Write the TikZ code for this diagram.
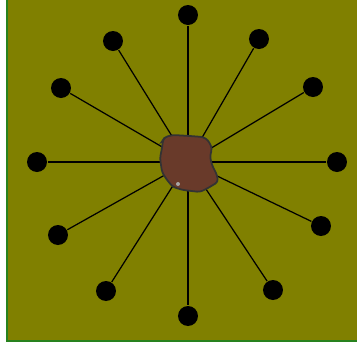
\documentclass[tikz,border=0pt]{standalone}
\definecolor{olivebg}{RGB}{128,128,0}
\definecolor{frameg}{RGB}{40,130,30}
\definecolor{blobbrown}{RGB}{105,58,42}
\tikzset{
  dot/.style={circle, fill=black, inner sep=0pt, minimum size=20\unitlength},
  spoke/.style={draw=black, line width=0.35pt},
}
\setlength{\unitlength}{0.01cm}
\begin{document}
\begin{tikzpicture}[x=0.01cm, y=-0.01cm]
\useasboundingbox (0,0) rectangle (357,345);
\fill[white] (0,0) rectangle (357,345);
\fill[olivebg] (7,0) rectangle (357,341);
\draw[frameg, line width=0.8pt] (7,-2) -- (7,341) -- (359,341);
\coordinate (c) at (188,162);
\foreach \n/\x/\y in {d1/188/15, d2/259/39, d3/313/87, d4/337/162, d5/321/226, d6/273/290, d7/188/316, d8/106/291, d9/58/235, d10/37/162, d11/61/88, d12/113/41} {
  \node[dot] (\n) at (\x,\y) {};
  \draw[spoke] (c) -- (\n);
}
\filldraw[fill=blobbrown, draw=black!80, line width=0.5pt, rounded corners=3\unitlength]
  (165,137) -- (173,135) -- (190,136) -- (203,137) -- (208,140) -- (212,148)
  -- (210,157) -- (212,165) -- (217,175) -- (218,182) -- (213,185) -- (208,188)
  -- (200,192) -- (183,190) -- (173,187) -- (167,180) -- (162,172) -- (160,158)
  -- (162,148) -- (163,140) -- cycle;
\fill[gray!70] (178,184) circle (2);
\end{tikzpicture}
\end{document}
